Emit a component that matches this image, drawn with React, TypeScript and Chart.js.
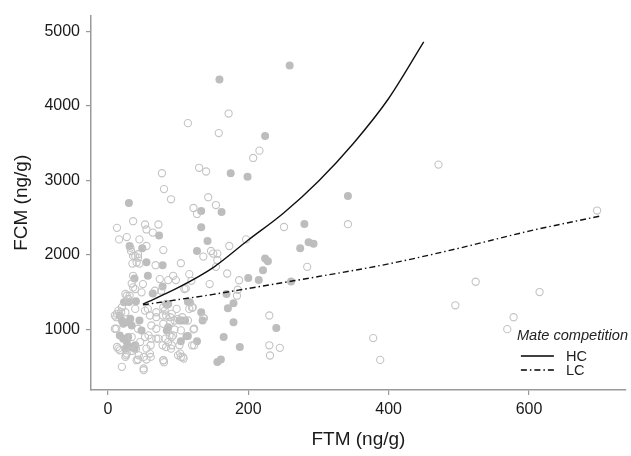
import React, { useEffect, useRef } from 'react';
import { Chart, registerables } from 'chart.js';

Chart.register(...registerables);

const xTicks = [0, 200, 400, 600];
const yTicks = [1000, 2000, 3000, 4000, 5000];

const xTitle = 'FTM (ng/g)';
const yTitle = 'FCM (ng/g)';
const legendTitle = 'Mate competition';
const legendLabels = ['HC', 'LC'];

// High competition (filled points)
const hcPoints: [number, number][] = [
  [30, 2697], [159, 4356], [259, 4543], [133, 2590], [133, 2373], [162, 2577], [175, 3097],
  [199, 3049], [224, 3596], [280, 2415], [142, 2187], [127, 2053], [31, 2120], [49, 2089],
  [73, 2262], [55, 1902], [78, 1862], [38, 1684], [57, 1720], [78, 1577], [64, 1484],
  [86, 1342], [23, 1364], [30, 1370], [117, 1360], [133, 1231], [135, 1120], [102, 1120],
  [110, 1120], [112, 907], [104, 840], [127, 840], [165, 900], [188, 764], [156, 564],
  [161, 596], [171, 1284], [179, 1351], [179, 1097], [169, 1476], [200, 1690], [215, 1665],
  [221, 1795], [224, 1951], [228, 1915], [240, 1018], [274, 2089], [286, 2169], [293, 2151],
  [342, 2791], [261, 1644], [45, 1120], [48, 987], [84, 1330], [17, 1187], [20, 1120],
  [22, 1076], [29, 1097], [34, 1053], [32, 1142], [17, 920], [22, 876], [27, 831], [29, 898],
  [25, 742], [32, 764], [39, 787], [38, 742], [86, 1031], [84, 987], [105, 1120], [114, 911],
  [114, 1373], [40, 1380],
];

// Low competition (open points)
const lcPoints: [number, number][] = [
  [114, 3769], [172, 3898], [158, 3636], [77, 3097], [130, 3170], [140, 3120], [216, 3400],
  [207, 3302], [80, 2884], [90, 2747], [143, 2775], [154, 2670], [122, 2630], [127, 2550],
  [36, 2453], [53, 2409], [72, 2409], [13, 2364], [55, 2342], [64, 2300], [251, 2375],
  [471, 3213], [342, 2413], [697, 2596], [16, 2209], [27, 2240], [45, 2209], [55, 2120],
  [32, 2097], [33, 2053], [79, 2065], [43, 2009], [39, 1987], [43, 1964], [36, 1987],
  [41, 1898], [45, 1884], [35, 1884], [68, 1862], [104, 1889], [136, 1978], [147, 2053],
  [150, 2018], [156, 2018], [173, 2120], [197, 2209], [156, 1929], [154, 1840], [145, 1609],
  [170, 1751], [187, 1660], [185, 1533], [184, 1453], [284, 1840], [230, 1187], [230, 787],
  [231, 650], [245, 753], [116, 1742], [119, 1653], [109, 1542], [97, 1662], [86, 1662],
  [76, 1520], [67, 1520], [57, 1276], [50, 1609], [36, 1564], [31, 1453], [29, 1409],
  [27, 1453], [15, 1253], [19, 1231], [12, 1164], [10, 1187], [12, 1009], [15, 742],
  [17, 720], [20, 498], [26, 653], [34, 711], [40, 742], [51, 453], [55, 596], [43, 596],
  [61, 631], [61, 787], [78, 787], [83, 764], [69, 876], [79, 587], [80, 560], [90, 742],
  [100, 653], [104, 631], [108, 609], [102, 787], [120, 787], [91, 898], [88, 920], [82, 876],
  [95, 1000], [104, 987], [122, 1000], [89, 1097], [95, 1120], [106, 1164], [121, 1298],
  [116, 1276], [114, 1120], [136, 1156], [79, 1298], [83, 1342], [89, 1164], [83, 1187],
  [69, 1164], [78, 1187], [123, 1009], [123, 787], [524, 1640], [495, 1324], [615, 1502],
  [578, 1164], [569, 1004], [378, 884], [388, 591], [111, 1551], [120, 1289], [137, 1151],
  [13, 1209], [25, 1231], [20, 1298], [39, 1276], [53, 1253], [60, 1187], [62, 1053],
  [69, 1009], [79, 1076], [91, 1209], [98, 1276], [100, 1142], [93, 920], [58, 920],
  [62, 876], [72, 876], [55, 742], [60, 676], [51, 631], [44, 653], [25, 631], [27, 676],
  [13, 764], [41, 587], [51, 476], [79, 587], [91, 787], [86, 831], [103, 676], [107, 631],
  [10, 1009], [69, 1231], [81, 1253], [43, 1009], [53, 898], [34, 898], [46, 831],
  [25, 1476], [39, 1542], [48, 1498], [34, 1617], [36, 1720], [74, 1676], [93, 1720],
];

// Fitted curves
const hcCurveX = [50, 100, 150, 200, 250, 300, 350, 400, 450];
const hcCurveY = [1340, 1560, 1830, 2200, 2560, 2990, 3500, 4100, 4860];
const lcCurveX = [50, 100, 150, 200, 250, 300, 400, 500, 600, 700];
const lcCurveY = [1330, 1400, 1470, 1550, 1630, 1710, 1880, 2090, 2320, 2520];

const FONT = '"Liberation Sans", Arial, Helvetica, sans-serif';
const LC_DASH = [6, 3, 1.5, 3];

const legendPlugin = {
  id: 'mateLegend',
  afterDraw(chart: any) {
    const { ctx, chartArea } = chart;
    const r = chartArea.right;
    const b = chartArea.bottom;
    ctx.save();
    ctx.fillStyle = '#222';
    ctx.textBaseline = 'middle';
    ctx.textAlign = 'left';
    ctx.font = `italic 14.6px ${FONT}`;
    ctx.fillText(legendTitle, r - 109, b - 54);
    ctx.font = `14.6px ${FONT}`;
    ctx.strokeStyle = '#000';
    ctx.lineWidth = 1.3;
    // HC
    ctx.beginPath();
    ctx.moveTo(r - 105, b - 34);
    ctx.lineTo(r - 72, b - 34);
    ctx.stroke();
    ctx.fillText(legendLabels[0], r - 60, b - 33);
    // LC
    ctx.setLineDash(LC_DASH);
    ctx.beginPath();
    ctx.moveTo(r - 105, b - 20);
    ctx.lineTo(r - 72, b - 20);
    ctx.stroke();
    ctx.setLineDash([]);
    ctx.fillText(legendLabels[1], r - 60, b - 19);
    ctx.restore();
  },
};

export default function App() {
  const ref = useRef<HTMLCanvasElement | null>(null);

  useEffect(() => {
    if (!ref.current) return;
    const chart = new Chart(ref.current, {
      type: 'scatter',
      data: {
        datasets: [
          {
            type: 'line',
            label: 'HC fit',
            data: hcCurveX.map((x, i) => ({ x, y: hcCurveY[i] })),
            borderColor: '#111',
            borderWidth: 1.4,
            pointRadius: 0,
            fill: false,
            cubicInterpolationMode: 'monotone',
          } as any,
          {
            type: 'line',
            label: 'LC fit',
            data: lcCurveX.map((x, i) => ({ x, y: lcCurveY[i] })),
            borderColor: '#111',
            borderWidth: 1.4,
            borderDash: LC_DASH,
            pointRadius: 0,
            fill: false,
            cubicInterpolationMode: 'monotone',
          } as any,
          {
            label: 'LC',
            data: lcPoints.map(([x, y]) => ({ x, y })),
            pointRadius: 3.6,
            pointBackgroundColor: 'rgba(255,255,255,0)',
            pointBorderColor: '#c4c4c4',
            pointBorderWidth: 1.1,
          },
          {
            label: 'HC',
            data: hcPoints.map(([x, y]) => ({ x, y })),
            pointRadius: 4,
            pointBackgroundColor: '#bdbdbd',
            pointBorderColor: '#bdbdbd',
            pointBorderWidth: 0,
          },
        ],
      },
      options: {
        responsive: false,
        animation: false,
        layout: { padding: { left: 0, right: 3, top: 13, bottom: 0 } },
        plugins: {
          legend: { display: false },
          tooltip: { enabled: false },
        },
        scales: {
          x: {
            type: 'linear',
            min: -24,
            max: 738,
            afterFit: (s: any) => { s.height = 66; },
            afterBuildTicks: (s: any) => { s.ticks = xTicks.map((v) => ({ value: v })); },
            grid: { drawOnChartArea: false, color: '#9a9a9a', tickLength: 5, lineWidth: 1.2 },
            border: { color: '#9a9a9a', width: 1.5 },
            ticks: {
              color: '#1a1a1a',
              font: { family: FONT, size: 16 },
              padding: 5,
              maxRotation: 0,
              callback: (v: any) => String(v),
            },
            title: {
              display: true,
              text: xTitle,
              color: '#1a1a1a',
              font: { family: FONT, size: 19 },
              padding: { top: 0, bottom: 5 },
            },
          },
          y: {
            type: 'linear',
            min: 187,
            max: 5213,
            afterFit: (s: any) => { s.width = 91; },
            afterBuildTicks: (s: any) => { s.ticks = yTicks.map((v) => ({ value: v })); },
            grid: { drawOnChartArea: false, color: '#9a9a9a', tickLength: 5, lineWidth: 1.2 },
            border: { color: '#9a9a9a', width: 1.5 },
            ticks: {
              color: '#1a1a1a',
              font: { family: FONT, size: 16 },
              padding: 6,
              callback: (v: any) => String(v),
            },
            title: {
              display: true,
              text: yTitle,
              color: '#1a1a1a',
              font: { family: FONT, size: 19 },
              padding: { top: 10, bottom: 0 },
            },
          },
        },
      },
      plugins: [legendPlugin],
    });
    return () => chart.destroy();
  }, []);

  return (
    <div style={{ position: 'fixed', left: 0, top: 0, width: 631, height: 456, background: '#fff' }}>
      <canvas ref={ref} width={631} height={456} style={{ width: 631, height: 456 }} />
    </div>
  );
}
